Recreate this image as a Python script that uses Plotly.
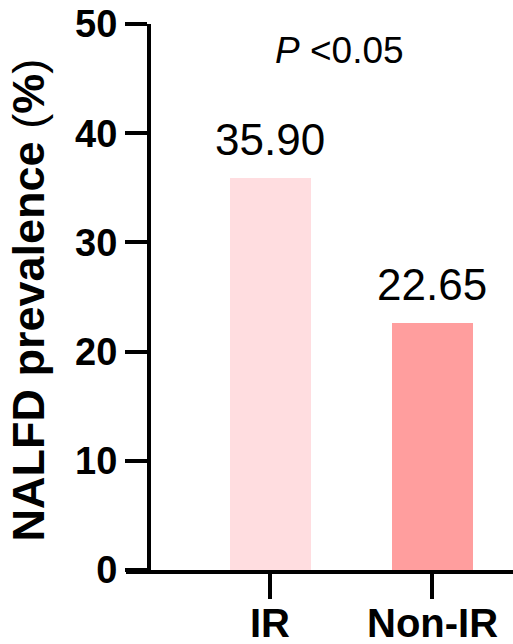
import plotly.graph_objects as go

# Data
groups = ["IR", "Non-IR"]
prevalence = [35.90, 22.65]
bar_colors = ["#FFDDE0", "#FF9E9E"]
y_ticks = [0, 10, 20, 30, 40, 50]
p_text = "<i>P</i> &lt;0.05"
y_title = "<b>NALFD prevalence</b> (<b>%</b>)"

font_family = "Liberation Sans, Arial, sans-serif"

x_pos = list(range(len(groups)))

fig = go.Figure()
fig.add_trace(go.Bar(
    x=x_pos,
    y=prevalence,
    width=0.5,
    marker=dict(color=bar_colors, line=dict(width=0)),
    hoverinfo="skip",
))

# value labels above bars
for xi, v in zip(x_pos, prevalence):
    fig.add_annotation(
        x=xi, y=v, xref="x", yref="y",
        text=f"{v:.2f}", showarrow=False,
        yanchor="bottom", yshift=12,
        font=dict(family=font_family, size=44, color="black"),
    )

# category labels under the ticks
for xi, g in zip(x_pos, groups):
    fig.add_annotation(
        x=xi, y=-0.097, xref="x", yref="paper",
        text=f"<b>{g}</b>", showarrow=False,
        xanchor="center", yanchor="middle",
        font=dict(family=font_family, size=40, color="black"),
    )

# significance note
fig.add_annotation(
    x=0.426, y=47.6, xref="x", yref="y",
    text=p_text, showarrow=False,
    xanchor="center", yanchor="middle",
    font=dict(family=font_family, size=37, color="black"),
)

# y-axis title
fig.add_annotation(
    x=-0.252, y=0.4945, xref="paper", yref="paper",
    text=y_title, showarrow=False, textangle=-90,
    xanchor="center", yanchor="middle",
    font=dict(family=font_family, size=45, color="black"),
)

fig.update_layout(
    width=513, height=644,
    margin=dict(l=126, r=0, t=24, b=74, autoexpand=False),
    paper_bgcolor="white", plot_bgcolor="white",
    showlegend=False,
    bargap=0,
    xaxis=dict(
        range=[-0.889, 1.5],
        automargin=False,
        tickvals=x_pos,
        showticklabels=False,
        ticks="outside", ticklen=25, tickwidth=4, tickcolor="black",
        showline=True, linewidth=4, linecolor="black",
        showgrid=False, zeroline=False,
    ),
    yaxis=dict(
        range=[0, 50],
        automargin=False,
        anchor="free", position=0.0594,
        tickvals=y_ticks,
        ticktext=[f"<b>{t}</b>" for t in y_ticks],
        ticks="outside", ticklen=22, tickwidth=4, tickcolor="black",
        showline=True, linewidth=4, linecolor="black",
        showgrid=False, zeroline=False,
        tickfont=dict(family=font_family, size=38, color="black"),
    ),
)

fig.write_html("out.html")
